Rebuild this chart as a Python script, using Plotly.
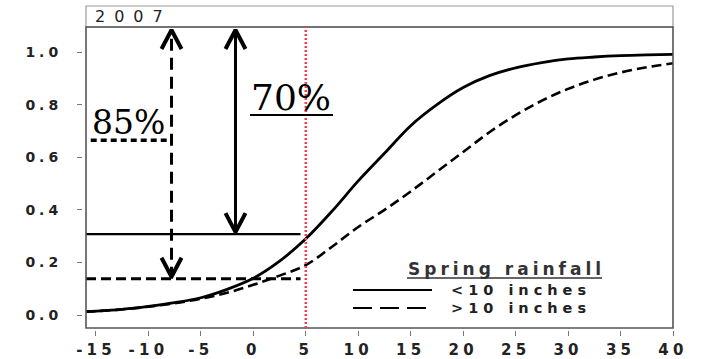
import plotly.graph_objects as go

# ---------------- data ----------------
x_vals = [-16, -15, -12.5, -10, -7.5, -5, -2.5, 0, 2.5, 5, 7.5, 10, 12.5, 15,
          17.5, 20, 22.5, 25, 27.5, 30, 32.5, 35, 37.5, 40]
p_low_rain = [0.013, 0.015, 0.022, 0.033, 0.047, 0.066, 0.098, 0.14, 0.205, 0.29,
              0.395, 0.51, 0.615, 0.72, 0.80, 0.865, 0.91, 0.94, 0.96, 0.974,
              0.981, 0.986, 0.989, 0.991]
p_high_rain = [0.013, 0.015, 0.022, 0.032, 0.045, 0.062, 0.085, 0.115, 0.15, 0.19,
               0.26, 0.335, 0.40, 0.47, 0.545, 0.62, 0.695, 0.76, 0.815, 0.86,
               0.895, 0.922, 0.942, 0.957]
series_names = ["<10 inches", ">10 inches"]
legend_title = "Spring rainfall"
panel_label = "2007"
x_ticks = [-15, -10, -5, 0, 5, 10, 15, 20, 25, 30, 35, 40]
y_ticks = [0.0, 0.2, 0.4, 0.6, 0.8, 1.0]
y_tick_labels = ["0.0", "0.2", "0.4", "0.6", "0.8", "1.0"]

x_cut = 5             # red dotted reference
p_solid_ref = 0.308   # level for <10 inches at cut
p_dash_ref = 0.138    # level for >10 inches at cut
ref_line_end = 4.5
arrow_x_solid = -1.7
arrow_x_dash = -7.8
pct_solid = "70%"
pct_dash = "85%"
label85_line_y = 0.665
label85_line_x0 = -15.5

X_RANGE = [-15.95, 40]
Y_RANGE = [-0.049, 1.095]

# ---------------- geometry helpers ----------------
W, H = 702, 359
ML, MR, MT, MB = 80, 29, 27, 25
PW = W - ML - MR
PH = H - MT - MB
FRAME_L, FRAME_R, FRAME_T, FRAME_B = 86, 673, 27, 328


def px2x(px):
    return (px - ML) / PW


def py2y(py):
    return (H - MB - py) / PH


x_per_px = (X_RANGE[1] - X_RANGE[0]) / (FRAME_R - FRAME_L)
y_per_px = (Y_RANGE[1] - Y_RANGE[0]) / (FRAME_B - FRAME_T)

fig = go.Figure()

# curves
fig.add_trace(go.Scatter(x=x_vals, y=p_low_rain, mode="lines", name=series_names[0],
                         line=dict(color="black", width=2.8, shape="spline"),
                         showlegend=False, hoverinfo="skip"))
fig.add_trace(go.Scatter(x=x_vals, y=p_high_rain, mode="lines", name=series_names[1],
                         line=dict(color="black", width=2.6, dash="10px,5px", shape="spline"),
                         showlegend=False, hoverinfo="skip"))

top_tip = Y_RANGE[1] - 3 * y_per_px

# horizontal reference lines
fig.add_trace(go.Scatter(x=[X_RANGE[0], ref_line_end], y=[p_solid_ref, p_solid_ref],
                         mode="lines", line=dict(color="black", width=2.2),
                         showlegend=False, hoverinfo="skip"))
fig.add_trace(go.Scatter(x=[X_RANGE[0], ref_line_end], y=[p_dash_ref, p_dash_ref],
                         mode="lines", line=dict(color="black", width=3, dash="10px,5px"),
                         showlegend=False, hoverinfo="skip"))
fig.add_trace(go.Scatter(x=[label85_line_x0, arrow_x_dash], y=[label85_line_y, label85_line_y],
                         mode="lines", line=dict(color="black", width=3.5, dash="6px,4px"),
                         showlegend=False, hoverinfo="skip"))

# vertical double arrows
fig.add_trace(go.Scatter(x=[arrow_x_solid, arrow_x_solid], y=[p_solid_ref, top_tip],
                         mode="lines", line=dict(color="black", width=3),
                         showlegend=False, hoverinfo="skip"))
fig.add_trace(go.Scatter(x=[arrow_x_dash, arrow_x_dash], y=[p_dash_ref, top_tip],
                         mode="lines", line=dict(color="black", width=3, dash="12px,7px"),
                         showlegend=False, hoverinfo="skip"))

hx = 10 * x_per_px
hy = 19 * y_per_px
for ax_x, lo in [(arrow_x_solid, p_solid_ref), (arrow_x_dash, p_dash_ref)]:
    fig.add_trace(go.Scatter(x=[ax_x - hx, ax_x, ax_x + hx], y=[top_tip - hy, top_tip, top_tip - hy],
                             mode="lines", line=dict(color="black", width=4),
                             showlegend=False, hoverinfo="skip"))
    lo_tip = lo + 2 * y_per_px
    fig.add_trace(go.Scatter(x=[ax_x - hx, ax_x, ax_x + hx], y=[lo_tip + hy, lo_tip, lo_tip + hy],
                             mode="lines", line=dict(color="black", width=4),
                             showlegend=False, hoverinfo="skip"))

shapes = []
# strip
shapes.append(dict(type="rect", xref="paper", yref="paper",
                   x0=px2x(FRAME_L), x1=px2x(FRAME_R), y0=py2y(FRAME_T), y1=py2y(6),
                   line=dict(color="#9a9a9a", width=1.2), fillcolor="white", layer="below"))
# frame
shapes.append(dict(type="rect", xref="paper", yref="paper",
                   x0=px2x(FRAME_L), x1=px2x(FRAME_R), y0=py2y(FRAME_B), y1=py2y(FRAME_T),
                   line=dict(color="#555555", width=1.6), layer="above"))
# red dotted cut line
shapes.append(dict(type="line", xref="x", yref="paper", x0=x_cut, x1=x_cut,
                   y0=py2y(FRAME_B), y1=py2y(FRAME_T),
                   line=dict(color="#e4485a", width=2.6, dash="2px,2px"), layer="above"))
# underline of 70%
shapes.append(dict(type="line", xref="paper", yref="paper", x0=px2x(250), x1=px2x(333),
                   y0=py2y(115), y1=py2y(115), line=dict(color="black", width=2)))
# legend samples
shapes.append(dict(type="line", xref="paper", yref="paper", x0=px2x(353), x1=px2x(432),
                   y0=py2y(290), y1=py2y(290), line=dict(color="black", width=1.8)))
shapes.append(dict(type="line", xref="paper", yref="paper", x0=px2x(353), x1=px2x(432),
                   y0=py2y(308), y1=py2y(308), line=dict(color="black", width=1.8, dash="19px,8px")))
# legend title underline
shapes.append(dict(type="line", xref="paper", yref="paper", x0=px2x(407), x1=px2x(602),
                   y0=py2y(278), y1=py2y(278), line=dict(color="#333", width=1.6)))

annotations = []
annotations.append(dict(text=f'<span style="letter-spacing:9px">{panel_label}</span>',
                        xref="paper", yref="paper", x=px2x(93), y=py2y(17),
                        xanchor="left", yanchor="middle", showarrow=False,
                        font=dict(family="DejaVu Sans", size=16, color="#222")))
annotations.append(dict(text=pct_solid, xref="paper", yref="paper", x=px2x(249), y=py2y(97),
                        xanchor="left", yanchor="middle", showarrow=False,
                        font=dict(family="DejaVu Serif", size=36, color="black")))
annotations.append(dict(text=pct_dash, xref="paper", yref="paper", x=px2x(90), y=py2y(122),
                        xanchor="left", yanchor="middle", showarrow=False,
                        font=dict(family="DejaVu Serif", size=33, color="black")))
annotations.append(dict(text=f'<span style="letter-spacing:4px">{legend_title}</span>',
                        xref="paper", yref="paper", x=px2x(406), y=py2y(269),
                        xanchor="left", yanchor="middle", showarrow=False,
                        font=dict(family="DejaVu Sans", size=17, weight="bold", color="#333")))
annotations.append(dict(text=f'<span style="letter-spacing:5px">{series_names[0]}</span>',
                        xref="paper", yref="paper", x=px2x(449), y=py2y(290),
                        xanchor="left", yanchor="middle", showarrow=False,
                        font=dict(family="DejaVu Sans", size=14.5, weight="bold", color="#222")))
annotations.append(dict(text=f'<span style="letter-spacing:5px">{series_names[1]}</span>',
                        xref="paper", yref="paper", x=px2x(449), y=py2y(308),
                        xanchor="left", yanchor="middle", showarrow=False,
                        font=dict(family="DejaVu Sans", size=14.5, weight="bold", color="#222")))

x_tick_text = [f'<span style="letter-spacing:4.2px">{v}</span>' for v in x_ticks]
y_tick_text = [f'<span style="letter-spacing:4px">{t}</span>' for t in y_tick_labels]

fig.update_layout(
    width=W, height=H,
    margin=dict(l=ML, r=MR, t=MT, b=MB, autoexpand=False),
    paper_bgcolor="white", plot_bgcolor="white",
    shapes=shapes, annotations=annotations,
    xaxis=dict(range=X_RANGE, domain=[px2x(FRAME_L), 1], anchor="free", automargin=False,
               position=py2y(FRAME_B + 2), showline=False, showgrid=False, zeroline=False,
               tickmode="array", tickvals=x_ticks, ticktext=x_tick_text,
               ticks="outside", ticklen=5, tickwidth=1.2, tickcolor="#777",
               ticklabelstandoff=1,
               tickfont=dict(family="DejaVu Sans", size=15, weight="bold", color="#222")),
    yaxis=dict(range=Y_RANGE, domain=[py2y(FRAME_B), 1], anchor="free", automargin=False,
               position=px2x(FRAME_L - 4), showline=False, showgrid=False, zeroline=False,
               tickmode="array", tickvals=y_ticks, ticktext=y_tick_text,
               ticks="outside", ticklen=5, tickwidth=1.2, tickcolor="#777",
               ticklabelstandoff=12,
               tickfont=dict(family="DejaVu Sans", size=14, weight="bold", color="#222")),
)

fig.write_html("out.html", config={"displayModeBar": False},
               post_script="document.body.style.margin='0';document.body.style.overflow='hidden';")
